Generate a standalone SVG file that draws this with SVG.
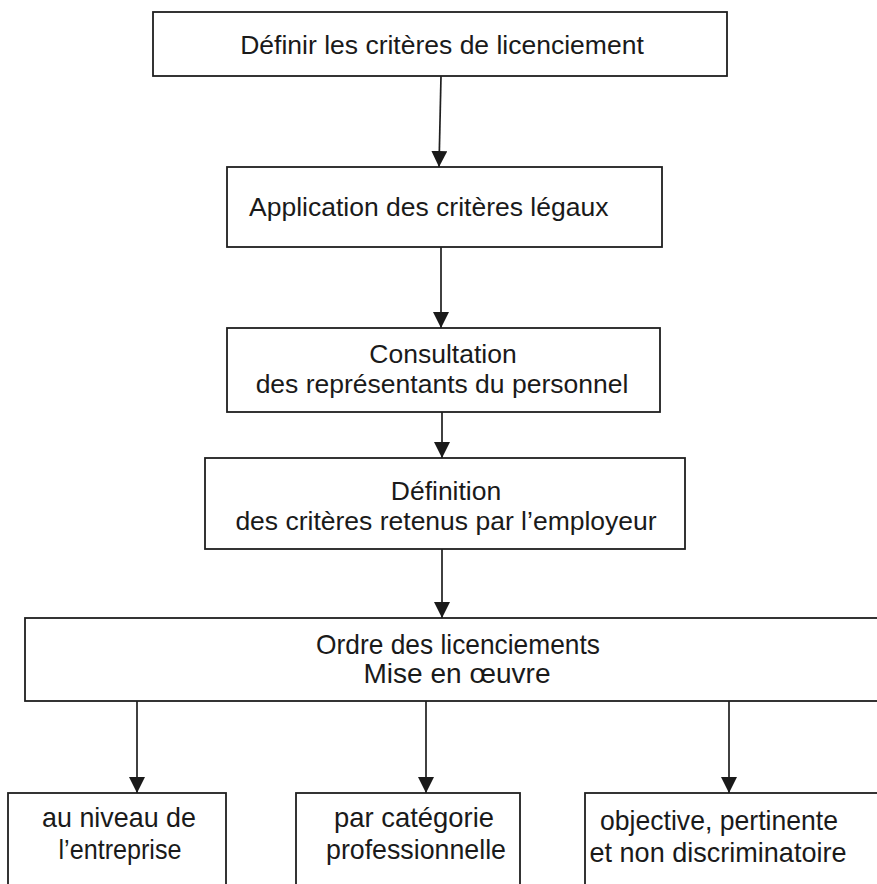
<svg xmlns="http://www.w3.org/2000/svg" width="877" height="884" viewBox="0 0 877 884">
<defs>
<marker id="arr" viewBox="0 0 16 16" refX="16" refY="8" markerWidth="16" markerHeight="16" markerUnits="userSpaceOnUse" orient="auto">
<path d="M0,0 L16,8 L0,16 Z" fill="#1a1a1a"/>
</marker>
<style>
rect{fill:#fff;stroke:#1f1f1f;stroke-width:1.8}
text{font-family:"Liberation Sans",Arial,sans-serif;font-size:26.5px;fill:#1a1a1a;text-anchor:middle}
text.n{font-size:28px}
.c line{stroke:#1f1f1f;stroke-width:1.7}
</style>
</defs>
<rect x="0" y="0" width="877" height="884" style="fill:#fff;stroke:none"/>
<g id="n1"><rect x="153" y="12" width="574" height="64"/><text x="442" y="54">Définir les critères de licenciement</text></g>
<g id="n2"><rect x="227" y="167" width="435" height="80"/><text x="249" y="216" style="text-anchor:start">Application des critères légaux</text></g>
<g id="n3"><rect x="227" y="328" width="433" height="84"/><text x="443" y="363">Consultation</text><text x="442" y="393">des représentants du personnel</text></g>
<g id="n4"><rect x="205" y="458" width="480" height="91"/><text x="446" y="500">Définition</text><text x="446" y="530">des critères retenus par l’employeur</text></g>
<g id="n5"><rect x="25" y="618" width="870" height="83"/><text class="n" x="458" y="654" textLength="284" lengthAdjust="spacingAndGlyphs">Ordre des licenciements</text><text class="n" x="457" y="683" textLength="187" lengthAdjust="spacingAndGlyphs">Mise en œuvre</text></g>
<g id="n6"><rect x="8" y="793" width="218" height="100"/><text class="n" x="119" y="827" textLength="154" lengthAdjust="spacingAndGlyphs">au niveau de</text><text class="n" x="120" y="859" textLength="123" lengthAdjust="spacingAndGlyphs">l’entreprise</text></g>
<g id="n7"><rect x="296" y="793" width="224" height="100"/><text class="n" x="414" y="827" textLength="160" lengthAdjust="spacingAndGlyphs">par catégorie</text><text class="n" x="416" y="859" textLength="180" lengthAdjust="spacingAndGlyphs">professionnelle</text></g>
<g id="n8"><rect x="585" y="793" width="310" height="100"/><text class="n" x="719" y="830" textLength="238" lengthAdjust="spacingAndGlyphs">objective, pertinente</text><text class="n" x="718" y="862" textLength="257" lengthAdjust="spacingAndGlyphs">et non discriminatoire</text></g>
<g class="c" id="connectors">
<line x1="441" y1="76" x2="439" y2="167" marker-end="url(#arr)"/>
<line x1="441" y1="247" x2="441" y2="328" marker-end="url(#arr)"/>
<line x1="442" y1="412" x2="442" y2="458" marker-end="url(#arr)"/>
<line x1="442" y1="549" x2="442" y2="618" marker-end="url(#arr)"/>
<line x1="137" y1="701" x2="137" y2="793" marker-end="url(#arr)"/>
<line x1="426" y1="701" x2="426" y2="793" marker-end="url(#arr)"/>
<line x1="729" y1="701" x2="729" y2="793" marker-end="url(#arr)"/>
</g>
</svg>
